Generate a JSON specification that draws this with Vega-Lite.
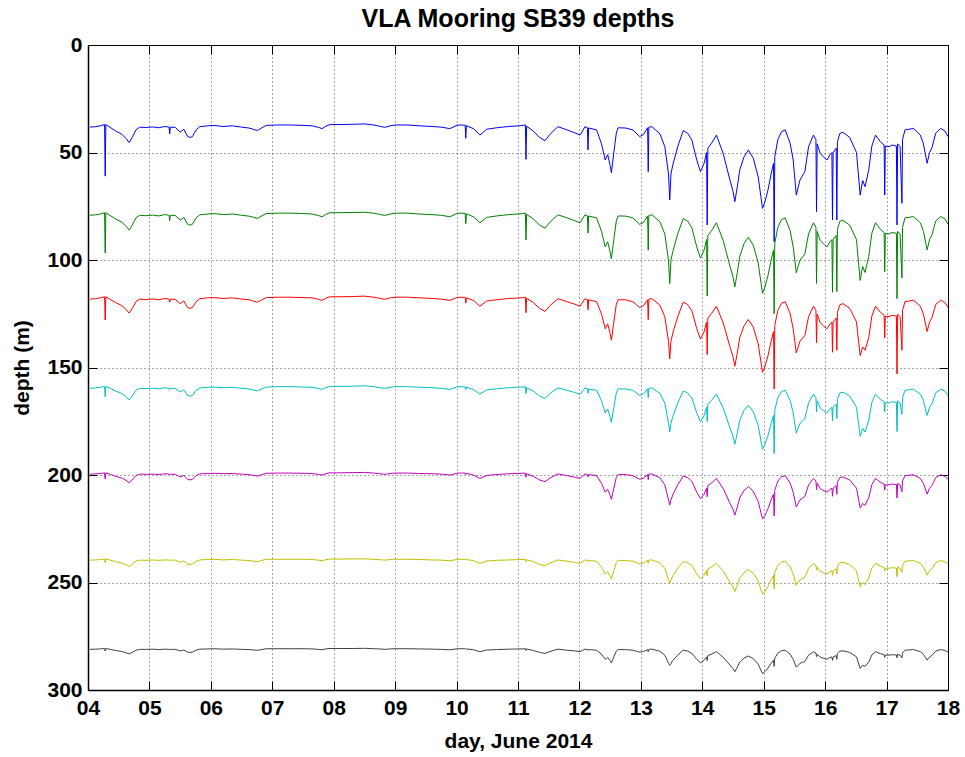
{
"$schema": "https://vega.github.io/schema/vega-lite/v6.json",
"width": 860, "height": 645,
"autosize": {"type": "none"},
"padding": {"left": 88, "top": 45, "right": 17, "bottom": 67},
"background": "white",
"title": {"text": "VLA Mooring SB39 depths", "fontSize": 25, "font": "Liberation Sans", "fontWeight": "bold", "color": "#000", "offset": 2, "anchor": "middle"},
"config": {"view": {"stroke": "#000", "strokeWidth": 1}},
"data": {"values": [
{"t":4.03,"a":38.2,"b":79.2,"c":118.2,"d":159.7,"e":199.6,"f":239.6,"g":281.1},
{"t":4.12,"a":38,"b":79,"c":118,"d":159.5,"e":199.5,"f":239.5,"g":281},
{"t":4.2,"a":37.6,"b":78.6,"c":117.6,"d":159.2,"e":199.3,"f":239.3,"g":280.9},
{"t":4.27,"a":37,"b":78,"c":117.1,"d":158.8,"e":199,"f":239.1,"g":280.7},
{"t":4.28,"a":61,"b":96.7,"c":127.9,"d":163.6,"e":201.9,"f":240.8,"g":281.9},
{"t":4.29,"a":37,"b":78,"c":117.1,"d":158.8,"e":199,"f":239.1,"g":280.7},
{"t":4.36,"a":38.3,"b":79.3,"c":118.3,"d":159.7,"e":199.7,"f":239.6,"g":281.1},
{"t":4.45,"a":40,"b":80.9,"c":119.8,"d":161,"e":200.6,"f":240.3,"g":281.6},
{"t":4.55,"a":41.5,"b":82.4,"c":121.2,"d":162.1,"e":201.4,"f":241,"g":282.1},
{"t":4.62,"a":43.5,"b":84.3,"c":123,"d":163.6,"e":202.5,"f":241.8,"g":282.7},
{"t":4.67,"a":45.4,"b":86.1,"c":124.7,"d":165.1,"e":203.6,"f":242.6,"g":283.2},
{"t":4.72,"a":43,"b":83.8,"c":122.5,"d":163.3,"e":202.3,"f":241.6,"g":282.5},
{"t":4.78,"a":39.5,"b":80.4,"c":119.4,"d":160.6,"e":200.3,"f":240.1,"g":281.5},
{"t":4.84,"a":38.2,"b":79.2,"c":118.2,"d":159.7,"e":199.6,"f":239.6,"g":281.1},
{"t":4.95,"a":38.4,"b":79.4,"c":118.4,"d":159.8,"e":199.7,"f":239.7,"g":281.1},
{"t":5.05,"a":38.1,"b":79.1,"c":118.1,"d":159.6,"e":199.6,"f":239.5,"g":281},
{"t":5.15,"a":38.5,"b":79.5,"c":118.5,"d":159.9,"e":199.8,"f":239.7,"g":281.2},
{"t":5.25,"a":37.9,"b":78.9,"c":117.9,"d":159.4,"e":199.4,"f":239.5,"g":281},
{"t":5.32,"a":38.2,"b":79.2,"c":118.2,"d":159.7,"e":199.6,"f":239.6,"g":281.1},
{"t":5.33,"a":41.4,"b":81.7,"c":119.6,"d":160.3,"e":200,"f":239.8,"g":281.3},
{"t":5.34,"a":38.2,"b":79.2,"c":118.2,"d":159.7,"e":199.6,"f":239.6,"g":281.1},
{"t":5.42,"a":38.3,"b":79.3,"c":118.3,"d":159.7,"e":199.7,"f":239.6,"g":281.1},
{"t":5.5,"a":40.5,"b":81.4,"c":120.3,"d":161.4,"e":200.9,"f":240.6,"g":281.8},
{"t":5.56,"a":39.2,"b":80.2,"c":119.1,"d":160.4,"e":200.2,"f":240,"g":281.4},
{"t":5.62,"a":42.5,"b":83.3,"c":122.1,"d":162.9,"e":202,"f":241.4,"g":282.4},
{"t":5.66,"a":43,"b":83.8,"c":122.5,"d":163.3,"e":202.3,"f":241.6,"g":282.5},
{"t":5.7,"a":42.6,"b":83.4,"c":122.1,"d":163,"e":202,"f":241.4,"g":282.4},
{"t":5.76,"a":39.5,"b":80.4,"c":119.4,"d":160.6,"e":200.3,"f":240.1,"g":281.5},
{"t":5.82,"a":38,"b":79,"c":118,"d":159.5,"e":199.5,"f":239.5,"g":281},
{"t":5.95,"a":37.6,"b":78.6,"c":117.6,"d":159.2,"e":199.3,"f":239.3,"g":280.9},
{"t":6.05,"a":37.4,"b":78.4,"c":117.5,"d":159.1,"e":199.2,"f":239.2,"g":280.8},
{"t":6.2,"a":37.9,"b":78.9,"c":117.9,"d":159.4,"e":199.4,"f":239.5,"g":281},
{"t":6.35,"a":37.6,"b":78.6,"c":117.6,"d":159.2,"e":199.3,"f":239.3,"g":280.9},
{"t":6.5,"a":38.2,"b":79.2,"c":118.2,"d":159.7,"e":199.6,"f":239.6,"g":281.1},
{"t":6.62,"a":38.6,"b":79.6,"c":118.5,"d":160,"e":199.8,"f":239.8,"g":281.2},
{"t":6.7,"a":39.3,"b":80.2,"c":119.2,"d":160.5,"e":200.2,"f":240.1,"g":281.4},
{"t":6.76,"a":39.8,"b":80.7,"c":119.6,"d":160.9,"e":200.5,"f":240.3,"g":281.5},
{"t":6.83,"a":38.5,"b":79.5,"c":118.5,"d":159.9,"e":199.8,"f":239.7,"g":281.2},
{"t":6.9,"a":37.4,"b":78.4,"c":117.5,"d":159.1,"e":199.2,"f":239.2,"g":280.8},
{"t":7.1,"a":37.2,"b":78.2,"c":117.3,"d":158.9,"e":199.1,"f":239.2,"g":280.8},
{"t":7.3,"a":37.2,"b":78.2,"c":117.3,"d":158.9,"e":199.1,"f":239.2,"g":280.8},
{"t":7.5,"a":37.4,"b":78.4,"c":117.5,"d":159.1,"e":199.2,"f":239.2,"g":280.8},
{"t":7.65,"a":37.6,"b":78.6,"c":117.6,"d":159.2,"e":199.3,"f":239.3,"g":280.9},
{"t":7.75,"a":38.3,"b":79.3,"c":118.3,"d":159.7,"e":199.7,"f":239.6,"g":281.1},
{"t":7.81,"a":38.9,"b":79.9,"c":118.8,"d":160.2,"e":200,"f":239.9,"g":281.3},
{"t":7.87,"a":37.8,"b":78.8,"c":117.8,"d":159.4,"e":199.4,"f":239.4,"g":280.9},
{"t":7.94,"a":37,"b":78,"c":117.1,"d":158.8,"e":199,"f":239.1,"g":280.7},
{"t":8.1,"a":37,"b":78,"c":117.1,"d":158.8,"e":199,"f":239.1,"g":280.7},
{"t":8.3,"a":36.9,"b":77.9,"c":117,"d":158.7,"e":198.9,"f":239,"g":280.7},
{"t":8.5,"a":36.7,"b":77.8,"c":116.8,"d":158.5,"e":198.8,"f":239,"g":280.6},
{"t":8.65,"a":37.2,"b":78.2,"c":117.3,"d":158.9,"e":199.1,"f":239.2,"g":280.8},
{"t":8.75,"a":37.8,"b":78.8,"c":117.8,"d":159.4,"e":199.4,"f":239.4,"g":280.9},
{"t":8.83,"a":38.3,"b":79.3,"c":118.3,"d":159.7,"e":199.7,"f":239.6,"g":281.1},
{"t":8.92,"a":37.6,"b":78.6,"c":117.6,"d":159.2,"e":199.3,"f":239.3,"g":280.9},
{"t":9,"a":37.2,"b":78.2,"c":117.3,"d":158.9,"e":199.1,"f":239.2,"g":280.8},
{"t":9.2,"a":37.2,"b":78.2,"c":117.3,"d":158.9,"e":199.1,"f":239.2,"g":280.8},
{"t":9.4,"a":37.6,"b":78.6,"c":117.6,"d":159.2,"e":199.3,"f":239.3,"g":280.9},
{"t":9.6,"a":37.9,"b":78.9,"c":117.9,"d":159.4,"e":199.4,"f":239.5,"g":281},
{"t":9.75,"a":38.2,"b":79.2,"c":118.2,"d":159.7,"e":199.6,"f":239.6,"g":281.1},
{"t":9.89,"a":38.9,"b":79.9,"c":118.8,"d":160.2,"e":200,"f":239.9,"g":281.3},
{"t":10.02,"a":37.2,"b":78.2,"c":117.3,"d":158.9,"e":199.1,"f":239.2,"g":280.8},
{"t":10.14,"a":37.3,"b":78.3,"c":117.4,"d":159,"e":199.1,"f":239.2,"g":280.8},
{"t":10.15,"a":43.4,"b":83.1,"c":120.1,"d":160.2,"e":199.8,"f":239.6,"g":281.1},
{"t":10.16,"a":37.5,"b":78.5,"c":117.6,"d":159.1,"e":199.2,"f":239.3,"g":280.9},
{"t":10.28,"a":39,"b":80,"c":118.9,"d":160.3,"e":200.1,"f":239.9,"g":281.3},
{"t":10.38,"a":41.9,"b":82.7,"c":121.5,"d":162.4,"e":201.6,"f":241.1,"g":282.2},
{"t":10.49,"a":39.2,"b":80.2,"c":119.1,"d":160.4,"e":200.2,"f":240,"g":281.4},
{"t":10.65,"a":38.5,"b":79.5,"c":118.5,"d":159.9,"e":199.8,"f":239.7,"g":281.2},
{"t":10.85,"a":37.9,"b":78.9,"c":117.9,"d":159.4,"e":199.4,"f":239.5,"g":281},
{"t":11.05,"a":37.5,"b":78.5,"c":117.6,"d":159.1,"e":199.2,"f":239.3,"g":280.9},
{"t":11.12,"a":37.2,"b":78.2,"c":117.3,"d":158.9,"e":199.1,"f":239.2,"g":280.8},
{"t":11.13,"a":53.2,"b":90.7,"c":124.5,"d":162.1,"e":201,"f":240.3,"g":281.6},
{"t":11.14,"a":37.8,"b":78.8,"c":117.8,"d":159.4,"e":199.4,"f":239.4,"g":280.9},
{"t":11.25,"a":40,"b":80.9,"c":119.8,"d":161,"e":200.6,"f":240.3,"g":281.6},
{"t":11.35,"a":43,"b":83.8,"c":122.5,"d":163.3,"e":202.3,"f":241.6,"g":282.5},
{"t":11.44,"a":44.5,"b":85.2,"c":123.9,"d":164.4,"e":203.1,"f":242.2,"g":283},
{"t":11.52,"a":41.5,"b":82.4,"c":121.2,"d":162.1,"e":201.4,"f":241,"g":282.1},
{"t":11.65,"a":38,"b":79,"c":118,"d":159.5,"e":199.5,"f":239.5,"g":281},
{"t":11.8,"a":39.5,"b":80.4,"c":119.4,"d":160.6,"e":200.3,"f":240.1,"g":281.5},
{"t":11.92,"a":40.8,"b":81.7,"c":120.5,"d":161.6,"e":201,"f":240.7,"g":281.8},
{"t":12.01,"a":41.9,"b":82.7,"c":121.5,"d":162.4,"e":201.6,"f":241.1,"g":282.2},
{"t":12.09,"a":38,"b":79,"c":118,"d":159.5,"e":199.5,"f":239.5,"g":281},
{"t":12.13,"a":38.4,"b":79.4,"c":118.4,"d":159.8,"e":199.7,"f":239.7,"g":281.1},
{"t":12.14,"a":48.8,"b":87.5,"c":123.1,"d":161.9,"e":200.9,"f":240.4,"g":281.6},
{"t":12.15,"a":38.6,"b":79.6,"c":118.5,"d":160,"e":199.8,"f":239.8,"g":281.2},
{"t":12.28,"a":39.5,"b":80.4,"c":119.4,"d":160.6,"e":200.3,"f":240.1,"g":281.5},
{"t":12.36,"a":46,"b":86.7,"c":125.2,"d":165.5,"e":203.9,"f":242.9,"g":283.4},
{"t":12.42,"a":53.5,"b":93.9,"c":132,"d":171.1,"e":208,"f":246,"g":285.7},
{"t":12.46,"a":51,"b":91.5,"c":129.7,"d":169.3,"e":206.7,"f":245,"g":284.9},
{"t":12.5,"a":56,"b":96.3,"c":134.2,"d":173,"e":209.4,"f":247.1,"g":286.4},
{"t":12.52,"a":59.4,"b":99.5,"c":137.3,"d":175.6,"e":211.3,"f":248.5,"g":287.4},
{"t":12.56,"a":50,"b":90.5,"c":128.8,"d":168.5,"e":206.1,"f":244.5,"g":284.6},
{"t":12.6,"a":41,"b":81.9,"c":120.7,"d":161.8,"e":201.2,"f":240.8,"g":281.9},
{"t":12.63,"a":38.5,"b":79.5,"c":118.5,"d":159.9,"e":199.8,"f":239.7,"g":281.2},
{"t":12.75,"a":38.6,"b":79.6,"c":118.5,"d":160,"e":199.8,"f":239.8,"g":281.2},
{"t":12.87,"a":39.5,"b":80.4,"c":119.4,"d":160.6,"e":200.3,"f":240.1,"g":281.5},
{"t":12.98,"a":42.6,"b":83.4,"c":122.1,"d":163,"e":202,"f":241.4,"g":282.4},
{"t":13.04,"a":41.7,"b":82.6,"c":121.3,"d":162.3,"e":201.5,"f":241.1,"g":282.1},
{"t":13.11,"a":38.5,"b":79.5,"c":118.5,"d":159.9,"e":199.8,"f":239.7,"g":281.2},
{"t":13.12,"a":58.9,"b":95.4,"c":127.7,"d":164,"e":202.2,"f":241.1,"g":282.2},
{"t":13.13,"a":38.2,"b":79.2,"c":118.2,"d":159.7,"e":199.6,"f":239.6,"g":281.1},
{"t":13.18,"a":38,"b":79,"c":118,"d":159.5,"e":199.5,"f":239.5,"g":281},
{"t":13.31,"a":41.3,"b":82.2,"c":121,"d":162,"e":201.3,"f":240.9,"g":282},
{"t":13.39,"a":47.3,"b":87.9,"c":126.4,"d":166.5,"e":204.6,"f":243.4,"g":283.8},
{"t":13.45,"a":60,"b":100.1,"c":137.8,"d":176,"e":211.6,"f":248.7,"g":287.6},
{"t":13.47,"a":72.1,"b":111,"c":146,"d":180,"e":214,"f":250.5,"g":288.5},
{"t":13.49,"a":60,"b":100.1,"c":137.8,"d":176,"e":211.6,"f":248.7,"g":287.6},
{"t":13.52,"a":55.8,"b":96.1,"c":134,"d":172.9,"e":209.3,"f":247,"g":286.3},
{"t":13.6,"a":47.3,"b":87.9,"c":126.4,"d":166.5,"e":204.6,"f":243.4,"g":283.8},
{"t":13.69,"a":39.8,"b":80.7,"c":119.6,"d":160.9,"e":200.5,"f":240.3,"g":281.5},
{"t":13.76,"a":41,"b":81.9,"c":120.7,"d":161.8,"e":201.2,"f":240.8,"g":281.9},
{"t":13.83,"a":44.2,"b":85,"c":123.6,"d":164.2,"e":202.9,"f":242.1,"g":282.9},
{"t":13.91,"a":53.5,"b":93.9,"c":132,"d":171.1,"e":208,"f":246,"g":285.7},
{"t":13.97,"a":58.9,"b":99.1,"c":136.8,"d":175.2,"e":211,"f":248.3,"g":287.3},
{"t":14.03,"a":55,"b":95.3,"c":133.3,"d":172.3,"e":208.9,"f":246.6,"g":286.1},
{"t":14.07,"a":50,"b":90.5,"c":128.8,"d":168.5,"e":206.1,"f":244.5,"g":284.6},
{"t":14.08,"a":83.7,"b":116.8,"c":144,"d":175.2,"e":210.1,"f":246.9,"g":286.3},
{"t":14.09,"a":48,"b":88.6,"c":127,"d":167,"e":205,"f":243.7,"g":284},
{"t":14.15,"a":45.7,"b":86.4,"c":124.9,"d":165.3,"e":203.7,"f":242.7,"g":283.3},
{"t":14.23,"a":41.9,"b":82.7,"c":121.5,"d":162.4,"e":201.6,"f":241.1,"g":282.2},
{"t":14.34,"a":50.4,"b":90.9,"c":129.2,"d":168.8,"e":206.3,"f":244.7,"g":284.7},
{"t":14.45,"a":62.8,"b":102.8,"c":140.3,"d":178.1,"e":213.1,"f":249.9,"g":288.4},
{"t":14.5,"a":68,"b":107.8,"c":145,"d":182,"e":216,"f":252.1,"g":290},
{"t":14.53,"a":72.9,"b":112.5,"c":149.4,"d":185.7,"e":218.7,"f":254.2,"g":291.5},
{"t":14.57,"a":66,"b":105.9,"c":143.2,"d":180.5,"e":214.9,"f":251.3,"g":289.4},
{"t":14.61,"a":58.1,"b":98.3,"c":136.1,"d":174.6,"e":210.6,"f":247.9,"g":287},
{"t":14.68,"a":52,"b":92.4,"c":130.6,"d":170,"e":207.2,"f":245.4,"g":285.2},
{"t":14.75,"a":48.8,"b":89.4,"c":127.7,"d":167.6,"e":205.4,"f":244,"g":284.2},
{"t":14.83,"a":52.7,"b":93.1,"c":131.2,"d":170.5,"e":207.6,"f":245.7,"g":285.4},
{"t":14.91,"a":61.3,"b":101.4,"c":139,"d":177,"e":212.3,"f":249.3,"g":288},
{"t":14.98,"a":76,"b":115.5,"c":152.2,"d":188,"e":220.4,"f":255.5,"g":292.4},
{"t":15.02,"a":73,"b":112.6,"c":149.5,"d":185.8,"e":218.8,"f":254.2,"g":291.5},
{"t":15.07,"a":67.4,"b":107.2,"c":144.5,"d":181.6,"e":215.7,"f":251.8,"g":289.8},
{"t":15.12,"a":60,"b":100.1,"c":137.8,"d":176,"e":211.6,"f":248.7,"g":287.6},
{"t":15.16,"a":55,"b":95.3,"c":133.3,"d":172.3,"e":208.9,"f":246.6,"g":286.1},
{"t":15.17,"a":91.5,"b":125,"c":160,"d":190,"e":219,"f":253,"g":289},
{"t":15.18,"a":51.9,"b":92.3,"c":130.5,"d":169.9,"e":207.1,"f":245.3,"g":285.2},
{"t":15.23,"a":44,"b":84.8,"c":123.4,"d":164,"e":202.8,"f":242,"g":282.8},
{"t":15.29,"a":40.3,"b":81.2,"c":120.1,"d":161.2,"e":200.8,"f":240.5,"g":281.7},
{"t":15.35,"a":39.5,"b":80.4,"c":119.4,"d":160.6,"e":200.3,"f":240.1,"g":281.5},
{"t":15.43,"a":45.7,"b":86.4,"c":124.9,"d":165.3,"e":203.7,"f":242.7,"g":283.3},
{"t":15.48,"a":53.5,"b":93.9,"c":132,"d":171.1,"e":208,"f":246,"g":285.7},
{"t":15.53,"a":69.8,"b":105.9,"c":143.2,"d":180.5,"e":214.9,"f":251.3,"g":289.4},
{"t":15.59,"a":62.8,"b":100.1,"c":137.8,"d":176,"e":211.6,"f":248.7,"g":287.6},
{"t":15.67,"a":58.9,"b":97.2,"c":135.1,"d":173.8,"e":210,"f":247.5,"g":286.7},
{"t":15.73,"a":47.3,"b":87.9,"c":126.4,"d":166.5,"e":204.6,"f":243.4,"g":283.8},
{"t":15.81,"a":41.9,"b":82.7,"c":121.5,"d":162.4,"e":201.6,"f":241.1,"g":282.2},
{"t":15.85,"a":44,"b":84.8,"c":123.4,"d":164,"e":202.8,"f":242,"g":282.8},
{"t":15.86,"a":77.5,"b":110.9,"c":138.5,"d":170.7,"e":206.8,"f":244.3,"g":284.5},
{"t":15.87,"a":46,"b":86.7,"c":125.2,"d":165.5,"e":203.9,"f":242.9,"g":283.4},
{"t":15.92,"a":50.4,"b":90.9,"c":129.2,"d":168.8,"e":206.3,"f":244.7,"g":284.7},
{"t":15.97,"a":52,"b":92.4,"c":130.6,"d":170,"e":207.2,"f":245.4,"g":285.2},
{"t":16.03,"a":53.5,"b":93.9,"c":132,"d":171.1,"e":208,"f":246,"g":285.7},
{"t":16.08,"a":51,"b":91.5,"c":129.7,"d":169.3,"e":206.7,"f":245,"g":284.9},
{"t":16.11,"a":50,"b":90.5,"c":128.8,"d":168.5,"e":206.1,"f":244.5,"g":284.6},
{"t":16.12,"a":81.4,"b":115,"c":142.9,"d":174.8,"e":209.9,"f":246.7,"g":286.2},
{"t":16.13,"a":50,"b":90.5,"c":128.8,"d":168.5,"e":206.1,"f":244.5,"g":284.6},
{"t":16.18,"a":48,"b":88.6,"c":127,"d":167,"e":205,"f":243.7,"g":284},
{"t":16.19,"a":81.4,"b":114.7,"c":142,"d":173.7,"e":209,"f":246,"g":285.7},
{"t":16.2,"a":45,"b":85.7,"c":124.3,"d":164.8,"e":203.4,"f":242.4,"g":283.1},
{"t":16.24,"a":41.1,"b":82,"c":120.8,"d":161.8,"e":201.2,"f":240.8,"g":281.9},
{"t":16.29,"a":40.6,"b":81.5,"c":120.3,"d":161.5,"e":200.9,"f":240.6,"g":281.8},
{"t":16.4,"a":43,"b":83.8,"c":122.5,"d":163.3,"e":202.3,"f":241.6,"g":282.5},
{"t":16.51,"a":50,"b":90.5,"c":128.8,"d":168.5,"e":206.1,"f":244.5,"g":284.6},
{"t":16.57,"a":69.8,"b":109.5,"c":144.5,"d":182,"e":215.3,"f":252,"g":290},
{"t":16.61,"a":63,"b":103,"c":140.5,"d":178.3,"e":213.3,"f":250,"g":288.5},
{"t":16.65,"a":65.9,"b":105.8,"c":142,"d":180,"e":214,"f":251,"g":289},
{"t":16.71,"a":58.1,"b":98.3,"c":136.1,"d":174.6,"e":210.6,"f":247.9,"g":287},
{"t":16.76,"a":47,"b":87.6,"c":126.1,"d":166.3,"e":204.5,"f":243.3,"g":283.7},
{"t":16.82,"a":41.9,"b":82.7,"c":121.5,"d":162.4,"e":201.6,"f":241.1,"g":282.2},
{"t":16.9,"a":45,"b":85.7,"c":124.3,"d":164.8,"e":203.4,"f":242.4,"g":283.1},
{"t":16.96,"a":46.5,"b":87.2,"c":125.7,"d":165.9,"e":204.2,"f":243.1,"g":283.6},
{"t":16.97,"a":69.8,"b":105.4,"c":136.2,"d":170.6,"e":207,"f":244.7,"g":284.8},
{"t":16.98,"a":47,"b":87.6,"c":126.1,"d":166.3,"e":204.5,"f":243.3,"g":283.7},
{"t":17.04,"a":47.3,"b":87.9,"c":126.4,"d":166.5,"e":204.6,"f":243.4,"g":283.8},
{"t":17.09,"a":46.5,"b":87.2,"c":125.7,"d":165.9,"e":204.2,"f":243.1,"g":283.6},
{"t":17.16,"a":47,"b":87.6,"c":126.1,"d":166.3,"e":204.5,"f":243.3,"g":283.7},
{"t":17.17,"a":83.7,"b":118,"c":153,"d":179.8,"e":210.7,"f":247.3,"g":285},
{"t":17.18,"a":46,"b":86.7,"c":125.2,"d":165.5,"e":203.9,"f":242.9,"g":283.4},
{"t":17.22,"a":47.3,"b":87.9,"c":126.4,"d":166.5,"e":204.6,"f":243.4,"g":283.8},
{"t":17.25,"a":73.6,"b":108.4,"c":142,"d":171.8,"e":207.8,"f":245.2,"g":285.1},
{"t":17.26,"a":44,"b":84.8,"c":123.4,"d":164,"e":202.8,"f":242,"g":282.8},
{"t":17.3,"a":39.5,"b":80.4,"c":119.4,"d":160.6,"e":200.3,"f":240.1,"g":281.5},
{"t":17.44,"a":38.8,"b":79.8,"c":118.7,"d":160.1,"e":199.9,"f":239.8,"g":281.2},
{"t":17.55,"a":41.9,"b":82.7,"c":121.5,"d":162.4,"e":201.6,"f":241.1,"g":282.2},
{"t":17.6,"a":46,"b":86.7,"c":125.2,"d":165.5,"e":203.9,"f":242.9,"g":283.4},
{"t":17.66,"a":55,"b":95.3,"c":133.3,"d":172.3,"e":208.9,"f":246.6,"g":286.1},
{"t":17.7,"a":50,"b":90.5,"c":128.8,"d":168.5,"e":206.1,"f":244.5,"g":284.6},
{"t":17.74,"a":47.7,"b":88.3,"c":126.7,"d":166.8,"e":204.8,"f":243.6,"g":283.9},
{"t":17.8,"a":41,"b":81.9,"c":120.7,"d":161.8,"e":201.2,"f":240.8,"g":281.9},
{"t":17.88,"a":38.8,"b":79.8,"c":118.7,"d":160.1,"e":199.9,"f":239.8,"g":281.2},
{"t":17.95,"a":40,"b":80.9,"c":119.8,"d":161,"e":200.6,"f":240.3,"g":281.6},
{"t":18,"a":42.6,"b":83.4,"c":122.1,"d":163,"e":202,"f":241.4,"g":282.4}
]},
"transform": [{"fold": ["a","b","c","d","e","f","g"], "as": ["s","z"]}],
"layer": [
{"mark": {"type": "line", "strokeWidth": 1, "clip": true},
 "encoding": {
  "x": {"field": "t", "type": "quantitative", "scale": {"domain": [4,18], "nice": false, "zero": false},
        "axis": {"orient": "bottom", "values": [4,5,6,7,8,9,10,11,12,13,14,15,16,17,18], "format": "02d",
                 "labelFont": "Liberation Sans", "labelFontSize": 21, "labelFontWeight": "bold", "labelColor": "#000",
                 "labelPadding": 16, "labelFlush": false, "tickColor": "#000", "tickSize": -9, "tickWidth": 1,
                 "domainColor": "#000", "domainWidth": 1.5,
                 "grid": true, "gridColor": "#000", "gridDash": [1,3], "gridOpacity": 0.7, "gridWidth": 1,
                 "title": "day, June 2014", "titleFont": "Liberation Sans", "titleFontSize": 21, "titleFontWeight": "bold", "titleColor": "#000", "titlePadding": 12}},
  "y": {"field": "z", "type": "quantitative", "scale": {"domain": [0,300], "reverse": true, "nice": false, "zero": false},
        "axis": {"orient": "left", "values": [0,50,100,150,200,250,300],
                 "labelFont": "Liberation Sans", "labelFontSize": 21, "labelFontWeight": "bold", "labelColor": "#000",
                 "labelPadding": 15, "labelFlush": false, "tickColor": "#000", "tickSize": -9, "tickWidth": 1,
                 "domainColor": "#000", "domainWidth": 1.5,
                 "grid": true, "gridColor": "#000", "gridDash": [1,3], "gridOpacity": 0.7, "gridWidth": 1,
                 "title": "depth (m)", "titleFont": "Liberation Sans", "titleFontSize": 21, "titleFontWeight": "bold", "titleColor": "#000", "titlePadding": 14}},
  "color": {"field": "s", "type": "nominal", "legend": null,
            "scale": {"domain": ["a","b","c","d","e","f","g"], "range": ["#0000ff","#008000","#ff0000","#00bfbf","#bf00bf","#bfbf00","#404040"]}}
 }},
{"mark": {"type": "point", "opacity": 0},
 "encoding": {
  "x": {"field": "t", "type": "quantitative", "axis": {"orient": "top", "values": [4,5,6,7,8,9,10,11,12,13,14,15,16,17,18], "labels": false, "grid": false, "domain": false, "tickColor": "#000", "tickSize": -9, "title": null}},
  "y": {"field": "z", "type": "quantitative", "axis": {"orient": "right", "values": [0,50,100,150,200,250,300], "labels": false, "grid": false, "domain": false, "tickColor": "#000", "tickSize": -9, "title": null}}
 }}
],
"resolve": {"axis": {"x": "independent", "y": "independent"}}
}
